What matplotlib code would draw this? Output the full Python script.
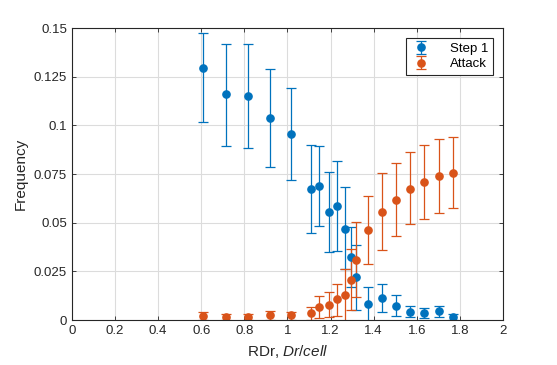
import matplotlib
matplotlib.use('Agg')
import matplotlib.pyplot as plt
import numpy as np
from matplotlib.ticker import MultipleLocator, FormatStrFormatter

plt.rcParams['font.family'] = ['Liberation Sans', 'DejaVu Sans']
plt.rcParams['mathtext.fontset'] = 'custom'
plt.rcParams['mathtext.rm'] = 'Liberation Sans'
plt.rcParams['mathtext.it'] = 'Liberation Sans:italic'

# RDr values (shared by both series)
rdr = [0.609, 0.713, 0.815, 0.919, 1.018, 1.109, 1.148, 1.191, 1.230, 1.267,
       1.295, 1.318, 1.372, 1.439, 1.505, 1.568, 1.635, 1.702, 1.767]

# Step 1: value, upper and lower bound of error bar
step1 = [0.1296, 0.116, 0.1149, 0.1036, 0.0954, 0.0676, 0.0688, 0.0555, 0.0584, 0.0469,
         0.0322, 0.0219, 0.0084, 0.0115, 0.0075, 0.0041, 0.0038, 0.0046, 0.0017]
step1_hi = [0.1475, 0.142, 0.1416, 0.1288, 0.119, 0.0902, 0.0894, 0.0759, 0.0815, 0.0685,
            0.0476, 0.0384, 0.0168, 0.0187, 0.0127, 0.007, 0.006, 0.0075, 0.0032]
step1_lo = [0.1016, 0.0892, 0.0882, 0.0784, 0.072, 0.0445, 0.0481, 0.0348, 0.0353, 0.026,
            0.017, 0.0051, -0.002, 0.004, 0.0019, 0.0015, 0.0012, 0.0015, 0.0]

# Attack
attack = [0.0021, 0.0015, 0.0015, 0.0026, 0.0026, 0.0034, 0.0067, 0.0077, 0.0106, 0.0127,
          0.0207, 0.0308, 0.0462, 0.0556, 0.0616, 0.0676, 0.0711, 0.074, 0.0757]
attack_hi = [0.0043, 0.0032, 0.0032, 0.0048, 0.0043, 0.0068, 0.0122, 0.0142, 0.0188, 0.026,
             0.0363, 0.0502, 0.064, 0.0754, 0.0805, 0.0861, 0.0902, 0.093, 0.0939]
attack_lo = [0.0, -0.0002, -0.0002, 0.0, 0.0, 0.0, 0.0009, 0.0014, 0.002, -0.001,
             0.0051, 0.0117, 0.0286, 0.0358, 0.043, 0.0492, 0.0517, 0.055, 0.0574]

blue = '#0072BD'
orange = '#D95319'

def err(y, lo, hi):
    y, lo, hi = np.array(y), np.array(lo), np.array(hi)
    return [y - lo, hi - y]

fig = plt.figure(figsize=(5.57, 3.65), dpi=100)
ax = fig.add_axes([0.129, 0.123, 0.774, 0.8])

ax.errorbar(rdr, step1, yerr=err(step1, step1_lo, step1_hi), fmt='o', color=blue,
            ms=5.2, elinewidth=0.9, capsize=3.5, capthick=0.9, label='Step 1')
ax.errorbar(rdr, attack, yerr=err(attack, attack_lo, attack_hi), fmt='o', color=orange,
            ms=5.2, elinewidth=0.9, capsize=3.5, capthick=0.9, label='Attack')

ax.set_xlim(0, 2)
ax.set_ylim(0, 0.15)
ax.xaxis.set_major_locator(MultipleLocator(0.2))
ax.yaxis.set_major_locator(MultipleLocator(0.025))
ax.xaxis.set_major_formatter(FormatStrFormatter('%g'))
ax.yaxis.set_major_formatter(FormatStrFormatter('%g'))

ax.grid(True, color='#dcdcdc', linewidth=0.8)
ax.set_axisbelow(True)
ax.tick_params(direction='in', top=True, right=True, labelsize=9.5,
               colors='#262626', length=3, width=0.6)
for s in ax.spines.values():
    s.set_color('#262626')
    s.set_linewidth(0.8)

ax.set_xlabel('RDr, $\\mathit{Dr/cell}$', fontsize=11, color='#262626')
ax.set_ylabel('Frequency', fontsize=11, color='#262626')

leg = ax.legend(loc='upper right', fontsize=9.5, fancybox=False, framealpha=1,
                edgecolor='#262626', borderaxespad=0.75, handletextpad=1.4,
                borderpad=0.35, labelspacing=0.25, handlelength=1.6)
leg.get_frame().set_linewidth(0.8)

fig.savefig('out.png', dpi=100)
